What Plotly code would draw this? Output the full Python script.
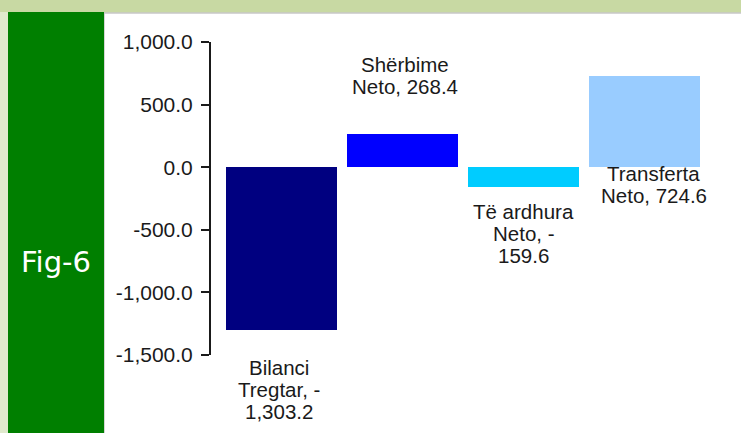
import plotly.graph_objects as go

# ---- data ----
categories = ["Bilanci Tregtar", "Shërbime Neto", "Të ardhura Neto", "Transferta Neto"]
values = [-1303.2, 268.4, -159.6, 724.6]
bar_colors = ["#000080", "#0000FF", "#00CCFF", "#99CCFF"]
label_lines = [
    ["Bilanci", "Tregtar, -", "1,303.2"],
    ["Shërbime", "Neto, 268.4"],
    ["Të ardhura", "Neto, -", "159.6"],
    ["Transferta", "Neto, 724.6"],
]
tick_values = [1000, 500, 0, -500, -1000, -1500]
tick_labels = [f"{v:,.1f}" for v in tick_values]

# ---- layout geometry (pixels) ----
W, H = 741, 433
L, R, T, B = 211, 28, 42, 78
PW = W - L - R
PH = H - T - B


def px_x(p):
    return (p - L) / PW


def px_y(p):
    return 1 - (p - T) / PH


x_pos = list(range(len(categories)))

fig = go.Figure()
fig.add_trace(go.Bar(
    x=x_pos, y=values, width=0.91,
    marker=dict(color=bar_colors, line=dict(width=0)),
    hoverinfo="skip", showlegend=False,
))

# label placement: (anchor: 'end' or 'base', first-line pixel offset, direction, xshift)
placement = [("end", -37, -1, -3), ("end", 47, 1, 2), ("end", -24, -1, 0), ("base", -6, -1, 9)]
line_gap = 22
annotations = []
for i, lines in enumerate(label_lines):
    anchor, first, direction, xs = placement[i]
    y_anchor = values[i] if anchor == "end" else 0
    n = len(lines)
    for j, line in enumerate(lines):
        if direction < 0:
            shift = first - j * line_gap
        else:
            shift = first + (n - 1 - j) * line_gap
        annotations.append(dict(
            x=x_pos[i], y=y_anchor, xref="x", yref="y", text=line,
            showarrow=False, yshift=shift, xshift=xs, yanchor="middle", xanchor="center",
            font=dict(family="Liberation Sans, Arial, sans-serif", size=20.5, color="#1a1a1a"),
        ))

annotations.append(dict(
    x=px_x(56), y=px_y(262), xref="paper", yref="paper", text="Fig-6",
    showarrow=False, xanchor="center", yanchor="middle",
    font=dict(family="DejaVu Sans, sans-serif", size=29, color="white"),
))

shapes = [
    dict(type="rect", xref="paper", yref="paper", x0=px_x(0), x1=px_x(8), y0=px_y(12), y1=px_y(433),
         fillcolor="#dfe9cc", line=dict(width=0), layer="below"),
    dict(type="rect", xref="paper", yref="paper", x0=px_x(104), x1=px_x(742), y0=px_y(13), y1=px_y(434),
         fillcolor="white", line=dict(color="#c8c8c8", width=1.5), layer="below"),
    dict(type="rect", xref="paper", yref="paper", x0=px_x(8), x1=px_x(104), y0=px_y(12), y1=px_y(434),
         fillcolor="#007F00", line=dict(width=0), layer="below"),
]

fig.update_layout(
    width=W, height=H,
    margin=dict(l=L, r=R, t=T, b=B, pad=0),
    paper_bgcolor="#c8d9a3",
    plot_bgcolor="rgba(0,0,0,0)",
    annotations=annotations,
    shapes=shapes,
    bargap=0,
)
fig.update_xaxes(range=[-0.583, 3.566], visible=False, fixedrange=True)
fig.update_yaxes(
    range=[-1500, 1000], tickvals=tick_values, ticktext=tick_labels,
    showgrid=False, zeroline=False, showline=True, linecolor="#1a1a1a", linewidth=2,
    ticks="outside", ticklen=8, tickwidth=2, tickcolor="#1a1a1a",
    ticklabelstandoff=4,
    tickfont=dict(family="Liberation Sans, Arial, sans-serif", size=21, color="#1a1a1a"),
    fixedrange=True,
)

fig.write_html(
    "out.html",
    config={"displayModeBar": False},
    post_script="document.body.style.margin='0';document.body.style.overflow='hidden';",
)
